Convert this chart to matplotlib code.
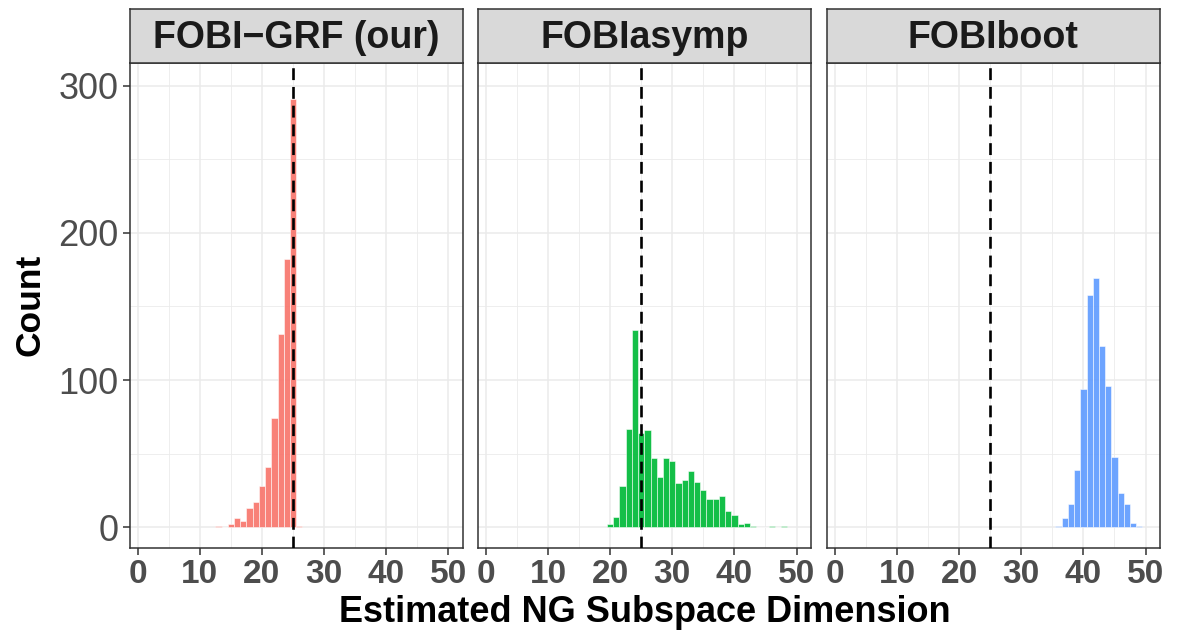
import numpy as np
import matplotlib
matplotlib.use("Agg")
import matplotlib.pyplot as plt

plt.rcParams["font.family"] = ["Liberation Sans", "DejaVu Sans"]

# 各方法估计的 NG 子空间维数直方图（binwidth = 1）
panel_titles = ["FOBI\u2212GRF (our)", "FOBIasymp", "FOBIboot"]
panel_colors = ["#F8766D", "#00BA38", "#619CFF"]
true_dim = 25

grf_dims = np.arange(13, 27)
grf_counts = [1, 0, 2, 6, 4, 13, 17, 28, 41, 74, 131, 182, 291, 1]

asymp_dims = np.arange(20, 49)
asymp_counts = [2, 7, 28, 67, 134, 64, 66, 47, 34, 47, 45, 30, 32, 38, 31,
                25, 19, 19, 21, 11, 8, 2, 3, 1, 0, 0, 1, 0, 1]

boot_dims = np.arange(36, 50)
boot_counts = [1, 6, 16, 39, 94, 158, 169, 123, 96, 48, 23, 16, 3, 1]

x_ticks = [0, 10, 20, 30, 40, 50]
y_ticks = [0, 100, 200, 300]

fig = plt.figure(figsize=(11.78, 6.39), dpi=100)
W, H = 1178, 639

panel_left = [129.5, 477.7, 826.7]
panel_w = 333.4
panel_top, panel_bottom = 63, 548.3
strip_top = 9

data = [(grf_dims, grf_counts), (asymp_dims, asymp_counts), (boot_dims, boot_counts)]

for i, (dims, counts) in enumerate(data):
    ax = fig.add_axes([panel_left[i] / W, 1 - panel_bottom / H,
                       panel_w / W, (panel_bottom - panel_top) / H])
    ax.set_facecolor("white")
    ax.bar(dims, counts, width=1.0, color=panel_colors[i], alpha=0.92,
           edgecolor="white", linewidth=0.4, zorder=2)
    ax.axvline(true_dim, color="black", lw=1.9, dashes=(4.5, 2.6), zorder=3)

    ax.set_xlim(-1.33, 52.35)
    ax.set_ylim(-14.3, 315.4)
    ax.set_xticks(x_ticks)
    ax.set_xticks([5, 15, 25, 35, 45], minor=True)
    ax.set_yticks(y_ticks)
    ax.set_yticks([50, 150, 250], minor=True)
    ax.grid(which="major", color="#EBEBEB", lw=1.1, zorder=0)
    ax.grid(which="minor", color="#EBEBEB", lw=0.6, zorder=0)
    ax.set_axisbelow(True)
    ax.tick_params(which="minor", length=0)
    ax.tick_params(which="major", length=5, width=1.1, color="#333333",
                   colors="#4D4D4D", pad=3)
    ax.tick_params(axis="x", pad=2.5)
    for lab in ax.get_xticklabels():
        lab.set_fontsize(24)
        lab.set_fontweight("bold")
    if i == 0:
        ax.set_yticklabels([str(v) for v in y_ticks], fontsize=26)
    else:
        ax.set_yticklabels([])
        ax.tick_params(axis="y", length=0)
    for sp in ax.spines.values():
        sp.set_color("#333333")
        sp.set_linewidth(1.1)

    # facet strip
    sax = fig.add_axes([panel_left[i] / W, 1 - panel_top / H,
                        panel_w / W, (panel_top - strip_top) / H])
    sax.set_facecolor("#D9D9D9")
    sax.set_xticks([])
    sax.set_yticks([])
    for sp in sax.spines.values():
        sp.set_color("#333333")
        sp.set_linewidth(1.1)
    sax.text(0.5, 0.47, panel_titles[i], transform=sax.transAxes,
             ha="center", va="center", fontsize=27, fontweight="bold",
             color="#1A1A1A")

fig.text(644.8 / W, 1 - 612 / H, "Estimated NG Subspace Dimension",
         ha="center", va="center", fontsize=26, fontweight="bold")
fig.text(30 / W, 1 - 305 / H, "Count", rotation=90,
         ha="center", va="center", fontsize=25.5, fontweight="bold")

fig.savefig("out.png", dpi=100)
